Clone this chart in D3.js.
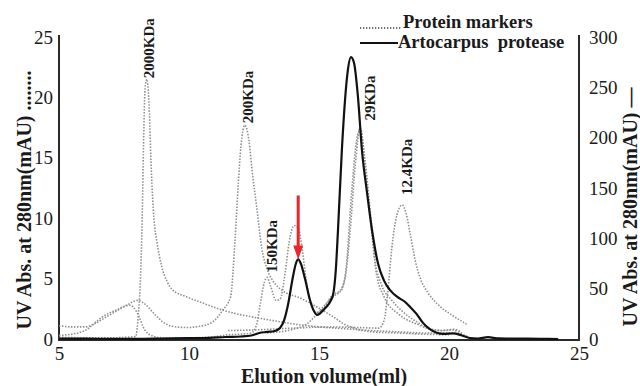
<!DOCTYPE html>
<html>
<head>
<meta charset="utf-8">
<script src="https://cdn.jsdelivr.net/npm/d3@7"></script>
<style>
  body { margin: 0; background: #fff; }
  svg text { font-family: "Liberation Serif", "Times New Roman", serif; fill: #1a1a1a; }
  .tick text { font-size: 19px; }
  .title { font-weight: bold; font-size: 20px; }
  .peak { font-weight: bold; font-size: 15px; }
  .legend { font-weight: bold; font-size: 18.5px; white-space: pre; }
</style>
</head>
<body>
<div id="chart"></div>
<script>
/* CONSTANTS */
const width = 640,
  height = 386,
  margin = { top: 37, bottom: 47, left: 59, right: 61 };

/* DATA */
// elution volume (ml) / absorbance pairs
const protease = [ // right axis, mAU
  [5,0.5],[6,0.3],[7,0.2],[8,0.2],[9,0.5],[10,0.8],[10.8,1.2],[11.4,2],[12,2.5],[12.4,3.5],
  [12.7,6],[13,7],[13.3,8],[13.5,11],[13.65,18],[13.8,33],[14.0,62],[14.1,74],[14.2,79],
  [14.3,75],[14.46,60],[14.65,39],[14.8,28],[14.92,24],[15.02,25],[15.1,27],[15.25,31],
  [15.45,38],[15.55,45],[15.65,70],[15.73,108],[15.88,188],[16.0,237],[16.1,265],[16.23,280],
  [16.35,274],[16.5,240],[16.65,188],[16.85,145],[17.04,108],[17.27,75],[17.5,58],[17.75,48],
  [18.0,42],[18.3,37],[18.5,32],[18.75,25],[19.0,16],[19.25,10],[19.5,6.5],[19.8,5],
  [20.15,5.5],[20.5,3.5],[20.8,1],[21.1,0.5],[21.5,1.8],[21.9,0.6],[22.5,0.4],[23.5,0.2],[24.2,0]
];

const marker2000 = [ // left axis, mAU
  [5,0.15],[6,0.1],[7,0.1],[7.95,0.2],[8.05,2],[8.15,6],[8.2,10],[8.25,16],[8.32,21],
  [8.38,21.5],[8.45,20],[8.55,14],[8.65,10],[8.77,8],[8.95,6],[9.15,4.8],[9.35,4.1],
  [9.9,3.5],[10.5,3.0],[11,2.6],[11.7,2.15],[12.5,1.8],[13.3,1.5],[14,1.25],[15,1.0],
  [16,0.85],[17,0.7],[18,0.6],[19,0.5],[19.7,0.5],[20.5,0.4]
];

const marker200 = [
  [5,1.1],[5.5,1.0],[6,1.0],[6.4,1.3],[6.8,1.8],[7.2,2.3],[7.6,2.8],[8.04,3.2],[8.3,2.9],
  [8.7,2.0],[9.0,1.4],[9.35,1.05],[9.9,0.95],[10.4,1.05],[10.9,1.4],[11.3,2.4],[11.6,3.5],
  [11.77,8.2],[11.9,13],[12.0,16],[12.15,17.7],[12.3,16.5],[12.45,13.5],[12.6,11],[12.8,7.5],
  [13.0,5.8],[13.2,4.9],[13.6,4.0],[14.27,3.4],[14.8,2.8],[15.5,1.9],[16,1.2],[16.5,0.8],
  [17,0.6],[18,0.5],[19,0.4],[20,0.35]
];

const marker150 = [
  [5,0.3],[5.5,0.4],[6,0.7],[6.65,1.8],[7.2,2.4],[7.73,2.8],[8.0,2.2],[8.3,0.75],[8.6,0.25],
  [9,0.1],[10,0.1],[11,0.2],[11.5,0.35],[12,0.4],[12.4,0.5],[12.6,1.2],[12.75,3],[12.9,4.7],
  [13.0,5.1],[13.15,4.3],[13.35,3.2],[13.5,3.3],[13.7,5.5],[13.85,8],[14.05,9.4],[14.2,9.2],
  [14.35,7.5],[14.5,5],[14.7,2.8],[14.9,2.2],[15.2,2.6],[15.5,3.6],[15.8,4.0],[16.0,5],
  [16.2,9],[16.4,14.5],[16.58,17.5],[16.77,14.8],[17.04,9],[17.2,5.5],[17.5,3.5],[18.1,2.0],
  [18.8,1.2],[19.4,0.75],[19.8,0.7],[20.15,0.75],[20.4,0.5],[20.7,0.2]
];

const marker29 = [
  [13,0.5],[14,0.8],[14.5,1.2],[14.9,2.0],[15.3,3.0],[15.6,3.6],[15.85,4.0],[16.05,6],
  [16.25,12],[16.45,16.5],[16.6,17.4],[16.72,15.5],[16.95,10.5],[17.15,6.5],[17.4,4.5],
  [17.8,3.2],[18.2,2.3],[18.7,1.5],[19.2,0.9],[19.7,0.7],[20.2,0.8],[20.5,0.5]
];

const marker12 = [
  [11.5,0.7],[12.5,0.75],[13.5,0.85],[14.5,0.95],[15.5,1.0],[16.5,0.95],[17.3,0.9],[17.5,1.5],
  [17.65,4],[17.8,7.5],[18.0,10.3],[18.2,11.1],[18.35,10.4],[18.5,8.8],[18.7,6.5],[18.9,5.0],
  [19.2,3.8],[19.6,2.8],[20.1,2.0],[20.7,1.2]
];

const markerRuns = [marker2000, marker200, marker150, marker29, marker12];

// marker peak labels, with the elution volume and height of each peak
const peakLabels = ["2000KDa", "200KDa", "150KDa", "29KDa", "12.4KDa"];
const peakVolumes = [8.38, 12.15, 13.0, 16.6, 18.2];
const peakHeights = [21.5, 17.7, 5.1, 17.5, 11.1];

// the arrowed protease peak
const arrowPeak = [14.2, 79];

const xTicks = [5, 10, 15, 20, 25];
const yLeftTicks = [0, 5, 10, 15, 20, 25];
const yRightTicks = [0, 50, 100, 150, 200, 250, 300];

// pixel nudges of the peak labels from their peaks
const labelShift = [[7, -1], [8, -2], [10, -5], [14, -7], [10, -10]];

/* SCALES */
const xScale = d3.scaleLinear()
  .domain([5, 25])
  .range([margin.left, width - margin.right]);

const yLeft = d3.scaleLinear()
  .domain([0, 25])
  .range([height - margin.bottom, margin.top]);

const yRight = d3.scaleLinear()
  .domain([0, 300])
  .range([height - margin.bottom, margin.top]);

/* SVG */
const svg = d3.select("#chart")
  .append("svg")
  .attr("width", width)
  .attr("height", height);

/* AXES */
const xAxis = d3.axisBottom(xScale).tickValues(xTicks).tickSize(0).tickPadding(8).tickFormat(d3.format("d"));
const leftAxis = d3.axisLeft(yLeft).tickValues(yLeftTicks).tickSize(0).tickPadding(6);
const rightAxis = d3.axisRight(yRight).tickValues(yRightTicks).tickSize(0).tickPadding(10);

svg.append("g")
  .attr("class", "axis x-axis")
  .attr("transform", `translate(0,${height - margin.bottom})`)
  .call(xAxis);

svg.append("g")
  .attr("class", "axis y-axis")
  .attr("transform", `translate(${margin.left},0)`)
  .call(leftAxis);

svg.append("g")
  .attr("class", "axis y-axis-right")
  .attr("transform", `translate(${width - margin.right},0)`)
  .call(rightAxis);

svg.selectAll(".axis")
  .attr("font-family", "Liberation Serif, Times New Roman, serif")
  .attr("font-size", 19);
svg.selectAll(".axis .domain").remove();
svg.selectAll(".axis text").attr("fill", "#1a1a1a");

// frame: left, bottom and right lines (no top)
const y0 = yLeft(0) + 1, yTop = yLeft(25) - 2;
svg.append("path")
  .attr("d", `M${xScale(5)},${yTop}V${y0}H${xScale(25)}V${yTop}`)
  .attr("fill", "none")
  .attr("stroke", "#2a2a2a")
  .attr("stroke-width", 2);

/* LINES */
const lineLeft = d3.line()
  .x(d => xScale(d[0]))
  .y(d => yLeft(d[1]))
  .curve(d3.curveMonotoneX);

const lineRight = d3.line()
  .x(d => xScale(d[0]))
  .y(d => yRight(d[1]))
  .curve(d3.curveMonotoneX);

svg.selectAll("path.marker")
  .data(markerRuns)
  .join("path")
  .attr("class", "marker")
  .attr("d", lineLeft)
  .attr("fill", "none")
  .attr("stroke", "#8f8f8f")
  .attr("stroke-width", 1.6)
  .attr("stroke-dasharray", "1.5,1.5");

svg.append("path")
  .datum(protease)
  .attr("d", lineRight)
  .attr("fill", "none")
  .attr("stroke", "#111")
  .attr("stroke-width", 2.2);

/* PEAK LABELS */
svg.selectAll("text.peak")
  .data(peakLabels)
  .join("text")
  .attr("class", "peak")
  .attr("transform", (d, i) => `translate(${xScale(peakVolumes[i]) + labelShift[i][0]},${yLeft(peakHeights[i]) + labelShift[i][1]}) rotate(-90)`)
  .text(d => d);

/* RED ARROW */
const ax = xScale(arrowPeak[0]), ay = yRight(arrowPeak[1]);
svg.append("line")
  .attr("x1", ax).attr("x2", ax)
  .attr("y1", ay - 64).attr("y2", ay - 12)
  .attr("stroke", "#e8262b")
  .attr("stroke-width", 3);
svg.append("path")
  .attr("d", `M${ax - 5},${ay - 14}L${ax + 5},${ay - 14}L${ax},${ay}Z`)
  .attr("fill", "#e8262b");

/* AXIS TITLES */
svg.append("text")
  .attr("class", "title")
  .attr("text-anchor", "middle")
  .attr("x", 324)
  .attr("y", 383)
  .text("Elution volume(ml)");

svg.append("text")
  .attr("class", "title")
  .attr("text-anchor", "middle")
  .attr("transform", "translate(31,200) rotate(-90)")
  .text("UV Abs. at 280nm(mAU) ........");

svg.append("text")
  .attr("class", "title")
  .attr("text-anchor", "middle")
  .attr("transform", "translate(637,207) rotate(-90)")
  .text("UV Abs. at 280nm(mAU) \u2014");

/* LEGEND */
svg.append("line")
  .attr("x1", 360).attr("x2", 401)
  .attr("y1", 28).attr("y2", 28)
  .attr("stroke", "#444")
  .attr("stroke-width", 1.5)
  .attr("stroke-dasharray", "1.3,1.7");
svg.append("text")
  .attr("class", "legend")
  .attr("x", 403).attr("y", 28)
  .text("Protein markers");

svg.append("line")
  .attr("x1", 360).attr("x2", 398)
  .attr("y1", 43).attr("y2", 43)
  .attr("stroke", "#111")
  .attr("stroke-width", 2);
svg.append("text")
  .attr("class", "legend")
  .attr("x", 398).attr("y", 48)
  .text("Artocarpus  protease");
</script>
</body>
</html>
